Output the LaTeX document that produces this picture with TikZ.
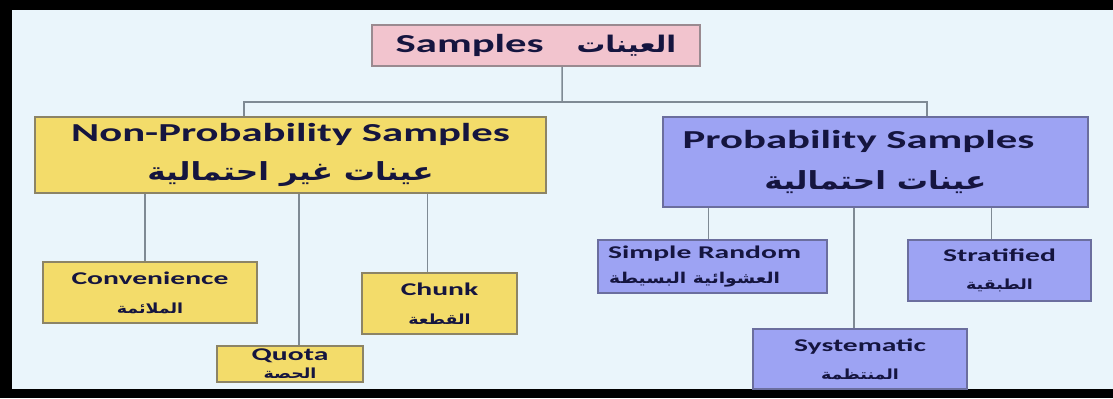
\documentclass[tikz,border=0pt]{standalone}
\usepackage{fontspec}
\setmainfont{Carlito}[FakeStretch=1.65]
\newfontfamily\arabicfont[Script=Arabic,FakeStretch=1.25]{DejaVu Sans}
\TeXXeTstate=1
\newcommand{\artext}[1]{{\arabicfont\bfseries\beginR #1\endR}}

\definecolor{bgblue}{HTML}{EAF5FB}
\definecolor{inkblue}{HTML}{15153F}
\definecolor{pinkfill}{HTML}{F2C4CE}
\definecolor{pinkline}{HTML}{9A8A90}
\definecolor{yellowfill}{HTML}{F3DC6A}
\definecolor{yellowline}{HTML}{8C8466}
\definecolor{bluefill}{HTML}{9DA3F3}
\definecolor{blueline}{HTML}{6B6E9E}
\definecolor{linkgray}{HTML}{7F8A94}

\begin{document}
\begin{tikzpicture}[x=1bp,y=-1bp,
  base/.style={draw,line width=1.5pt,inner sep=0pt,align=center,text=inkblue,font=\bfseries},
  pinkbox/.style={base,fill=pinkfill,draw=pinkline},
  yellowbox/.style={base,fill=yellowfill,draw=yellowline},
  bluebox/.style={base,fill=bluefill,draw=blueline},
  link/.style={draw=linkgray,line width=1.5pt}]
  % background and frame
  \fill[bgblue] (0,0) rectangle (1120,398);
  \fill[black] (0,0) rectangle (1120,10);
  \fill[black] (0,0) rectangle (12,398);
  \fill[black] (0,389) rectangle (1120,398);

  % boxes
  \node[pinkbox,minimum width=328bp,minimum height=41bp] (samples) at (536,45.5)
    {\fontsize{26}{30}\selectfont Samples\hspace{33pt}{\fontsize{23}{30}\selectfont\artext{العينات}}};
  \node[yellowbox,minimum width=511bp,minimum height=76bp,font=\bfseries\fontsize{26}{39}\selectfont] (nonprob) at (290.5,155)
    {Non-Probability Samples\\ {\fontsize{25}{39}\selectfont\artext{عينات غير احتمالية}}};
  \node[bluebox,minimum width=425bp,minimum height=90bp,font=\bfseries\fontsize{26}{42}\selectfont] (prob) at (875.5,162)
    {Probability Samples\hspace*{34pt}\\ {\fontsize{25}{42}\selectfont\artext{عينات احتمالية}}};

  \node[yellowbox,minimum width=214bp,minimum height=61bp,font=\bfseries\fontsize{18}{29}\selectfont] (conv) at (150,292.5)
    {Convenience\\ {\fontsize{14}{29}\selectfont\artext{الملائمة}}};
  \node[yellowbox,minimum width=146bp,minimum height=36bp,font=\bfseries\fontsize{18}{18}\selectfont] (quota) at (290,364)
    {Quota\\ {\fontsize{14}{18}\selectfont\artext{الحصة}}};
  \node[yellowbox,minimum width=155bp,minimum height=61bp,font=\bfseries\fontsize{18}{29}\selectfont] (chunk) at (439.5,303.5)
    {Chunk\\ {\fontsize{14}{29}\selectfont\artext{القطعة}}};

  \node[bluebox,minimum width=229bp,minimum height=53bp,font=\bfseries\fontsize{18}{25}\selectfont] (simple) at (712.5,266.5)
    {Simple Random\hspace*{16pt}\\ {\fontsize{15}{25}\selectfont\artext{العشوائية البسيطة}}\hspace*{36pt}};
  \node[bluebox,minimum width=214bp,minimum height=60bp,font=\bfseries\fontsize{18}{28}\selectfont] (syst) at (860,359)
    {Systematic\\ {\fontsize{14}{28}\selectfont\artext{المنتظمة}}};
  \node[bluebox,minimum width=183bp,minimum height=61bp,font=\bfseries\fontsize{18}{28}\selectfont] (strat) at (999.5,270.5)
    {Stratified\\ {\fontsize{14}{28}\selectfont\artext{الطبقية}}};

  % tree lines
  \coordinate (bus) at (562,102);
  \coordinate (busL) at (244,102);
  \coordinate (busR) at (927,102);
  \draw[link] ([xshift=26bp]samples.south) -- (bus);
  \draw[link] (busL |- nonprob.north) -- (busL) -- (busR) -- (busR |- prob.north);
  \foreach \kid/\dx/\up in {conv/-5/nonprob, quota/9/nonprob, chunk/-12/nonprob,
                           simple/-4/prob, syst/-6/prob, strat/-8/prob}
    \draw[link] ([xshift=\dx bp]\kid.north) -- ([xshift=\dx bp]\kid.north |- \up.south);

  \pgfresetboundingbox
  \useasboundingbox (0,0) rectangle (1113,398);
\end{tikzpicture}
\end{document}
